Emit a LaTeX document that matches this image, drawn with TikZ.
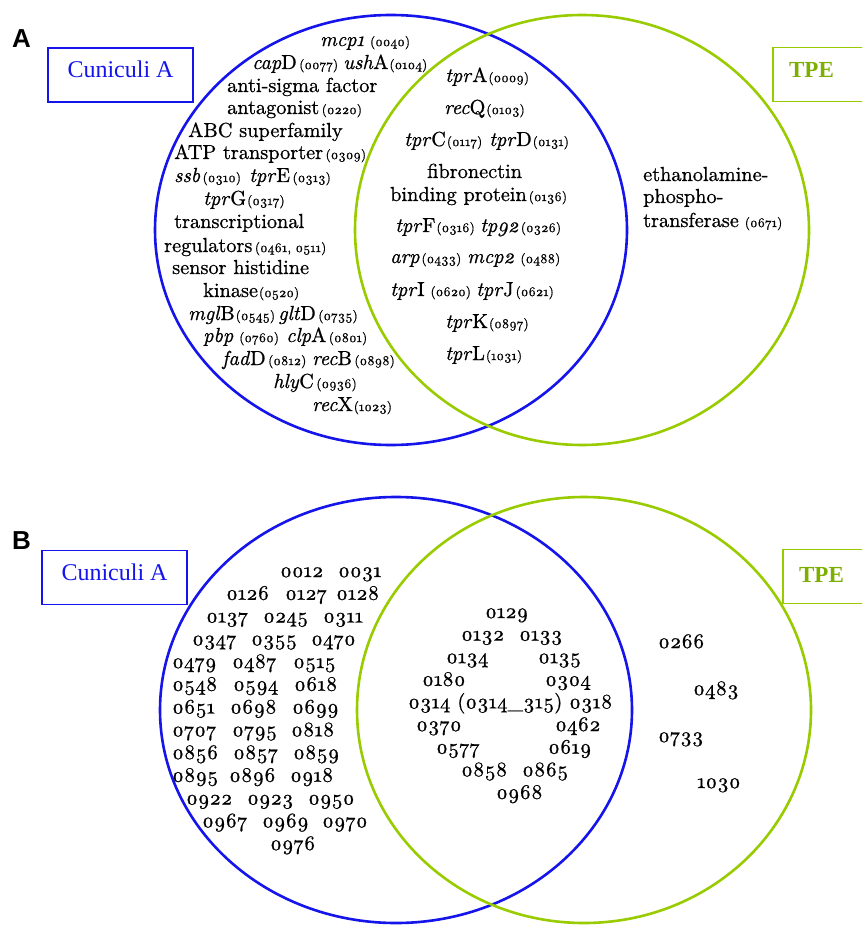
\documentclass[tikz,border=0pt]{standalone}
\usepackage{fontspec}
\setmainfont{lmroman10-regular.otf}[ItalicFont=lmroman10-italic.otf, Numbers=OldStyle, FakeBold=0.8]
\newfontfamily\timesf{Liberation Serif}
\newfontfamily\arialf{Liberation Sans}
\definecolor{vblue}{RGB}{20,20,235}
\definecolor{vgreen}{RGB}{153,204,0}
\definecolor{tgreen}{RGB}{125,175,0}
\newcommand\osn[1]{#1}
\newcommand\pn[1]{{\fontsize{13.3}{15}\selectfont(\osn{#1})}}
\newcommand\tk{\kern2.5pt}
\newcommand\wk{\kern6pt}
\begin{document}
\begin{tikzpicture}[x=1pt,y=-1pt,
  lbl/.style={anchor=base west, inner sep=0pt, font=\fontsize{20.3}{24}\selectfont},
  nb/.style={anchor=base west, inner sep=0pt, font=\fontsize{20.6}{25}\selectfont},
  bluecirc/.style={draw=vblue, line width=2.6pt},
  greencirc/.style={draw=vgreen, line width=2.6pt},
  bluebox/.style={draw=vblue, line width=1.6pt, inner sep=0pt, minimum width=145pt, minimum height=54pt,
     text=vblue, font=\timesf\fontsize{24}{26}\selectfont, text height=16pt, text depth=10pt},
  greenbox/.style={draw=vgreen, line width=1.6pt, inner sep=0pt, minimum width=100pt, minimum height=54pt},
  tpetext/.style={anchor=base, inner sep=0pt, text=tgreen, font=\timesf\bfseries\fontsize{23}{25}\selectfont},
  panel/.style={anchor=base west, inner sep=0pt, font=\arialf\bfseries\fontsize{26}{28}\selectfont}]
\useasboundingbox (0,0) rectangle (862,925);
\clip (0,0) rectangle (862,925);
% ---------------- Panel A ----------------
\node[panel] (pA) at (12,48) {A};
\draw[bluecirc] (391,230) ellipse [x radius=236, y radius=215];
\draw[greencirc] (582,230) ellipse [x radius=227, y radius=215];
\node[bluebox] (boxA1) at (120.5,75) {Cuniculi A};
\node[greenbox] (boxA2) at (823,74.5) {};
\node[tpetext] (tpeA) at (811.5,78) {TPE};
% left only
\node[lbl] (a1) at (320,46) {\textit{mcp1}\wk\pn{0040}};
\node[lbl] (a2) at (252,69) {\textit{cap}D\tk\pn{0077}};
\node[lbl] (a3) at (343,69) {\textit{ush}A\kern1pt\pn{0104}};
\node[lbl] (a4) at (227,92) {anti-sigma factor};
\node[lbl] (a5) at (227,114) {antagonist\tk\pn{0220}};
\node[lbl] (a6) at (188,137) {ABC superfamily};
\node[lbl] (a7) at (174,159) {ATP transporter\tk\pn{0309}};
\node[lbl] (a8) at (174,182) {\textit{ssb}\tk\pn{0310}};
\node[lbl] (a9) at (249,182) {\textit{tpr}E\tk\pn{0313}};
\node[lbl] (a10) at (203,205) {\textit{tpr}G\kern1pt\pn{0317}};
\node[lbl] (a11) at (174,228) {transcriptional};
\node[lbl] (a12) at (164,252) {regulators\tk{\fontsize{13.3}{15}\selectfont(\osn{0461}, \osn{0511})}};
\node[lbl] (a13) at (172,274) {sensor histidine};
\node[lbl] (a14) at (203,297) {kinase\kern1pt\pn{0520}};
\node[lbl] (a15) at (188,320) {\textit{mgl}B\kern1pt\pn{0545}};
\node[lbl] (a16) at (278,320) {\textit{glt}D\tk\pn{0735}};
\node[lbl] (a17) at (203,342) {\textit{pbp}\wk\pn{0760}};
\node[lbl] (a18) at (286,342) {\textit{clp}A\tk\pn{0801}};
\node[lbl] (a19) at (222,365) {\textit{fad}D\tk\pn{0812}};
\node[lbl] (a20) at (312,365) {\textit{rec}B\tk\pn{0898}};
\node[lbl] (a21) at (273,388) {\textit{hly}C\tk\pn{0936}};
\node[lbl] (a22) at (312,411) {\textit{rec}X\kern1pt\pn{1023}};
% intersection
\node[lbl] (a23) at (445,82) {\textit{tpr}A\kern1pt\pn{0009}};
\node[lbl] (a24) at (444,114) {\textit{rec}Q\kern1pt\pn{0103}};
\node[lbl] (a25) at (404,146) {\textit{tpr}C\kern1pt\pn{0117}};
\node[lbl] (a26) at (489,146) {\textit{tpr}D\kern1pt\pn{0131}};
\node[lbl] (a27) at (427,178) {fibronectin};
\node[lbl] (a28) at (390,201) {binding protein\kern2pt\pn{0136}};
\node[lbl] (a29) at (395,232) {\textit{tpr}F\kern1pt\pn{0316}};
\node[lbl] (a30) at (480,232) {\textit{tp92}\kern2pt\pn{0326}};
\node[lbl] (a31) at (390,263) {\textit{arp}\kern2pt\pn{0433}};
\node[lbl] (a32) at (467,263) {\textit{mcp2}\wk\pn{0488}};
\node[lbl] (a33) at (390,296) {\textit{tpr}I\wk\pn{0620}};
\node[lbl] (a34) at (476,296) {\textit{tpr}J\kern2pt\pn{0621}};
\node[lbl] (a35) at (445,328) {\textit{tpr}K\kern1pt\pn{0897}};
\node[lbl] (a36) at (445,360) {\textit{tpr}L\kern1pt\pn{1031}};
% right only
\node[lbl] (a37) at (643,181) {ethanolamine-};
\node[lbl] (a38) at (643,203) {phospho-};
\node[lbl] (a39) at (643,227) {transferase\wk\pn{0671}};
% ---------------- Panel B ----------------
\node[panel] (pB) at (12,549) {B};
\draw[bluecirc] (396,710) ellipse [x radius=236, y radius=213];
\draw[greencirc] (584,710) ellipse [x radius=227, y radius=213];
\node[bluebox] (boxB1) at (114.5,577.5) {Cuniculi A};
\node[greenbox] (boxB2) at (833,576.5) {};
\node[tpetext] (tpeB) at (821.5,582) {TPE};
% left only
\node[nb] (b1) at (280,577) {\osn{0012}};
\node[nb] (b2) at (338,577) {\osn{0031}};
\node[nb] (b3) at (226,599.75) {\osn{0126}};
\node[nb] (b4) at (285,599.75) {\osn{0127}};
\node[nb] (b5) at (336,599.75) {\osn{0128}};
\node[nb] (b6) at (206,622.5) {\osn{0137}};
\node[nb] (b7) at (263,622.5) {\osn{0245}};
\node[nb] (b8) at (323,622.5) {\osn{0311}};
\node[nb] (b9) at (192,645.25) {\osn{0347}};
\node[nb] (b10) at (251,645.25) {\osn{0355}};
\node[nb] (b11) at (311,645.25) {\osn{0470}};
\node[nb] (b12) at (172,668) {\osn{0479}};
\node[nb] (b13) at (232,668) {\osn{0487}};
\node[nb] (b14) at (293,668) {\osn{0515}};
\node[nb] (b15) at (172,690.75) {\osn{0548}};
\node[nb] (b16) at (233,690.75) {\osn{0594}};
\node[nb] (b17) at (294,690.75) {\osn{0618}};
\node[nb] (b18) at (172,713.5) {\osn{0651}};
\node[nb] (b19) at (230,713.5) {\osn{0698}};
\node[nb] (b20) at (292,713.5) {\osn{0699}};
\node[nb] (b21) at (172,736.25) {\osn{0707}};
\node[nb] (b22) at (232,736.25) {\osn{0795}};
\node[nb] (b23) at (291,736.25) {\osn{0818}};
\node[nb] (b24) at (172,759) {\osn{0856}};
\node[nb] (b25) at (233,759) {\osn{0857}};
\node[nb] (b26) at (293,759) {\osn{0859}};
\node[nb] (b27) at (172,781.75) {\osn{0895}};
\node[nb] (b28) at (229,781.75) {\osn{0896}};
\node[nb] (b29) at (290,781.75) {\osn{0918}};
\node[nb] (b30) at (186,804.5) {\osn{0922}};
\node[nb] (b31) at (247,804.5) {\osn{0923}};
\node[nb] (b32) at (308,804.5) {\osn{0950}};
\node[nb] (b33) at (202,827.25) {\osn{0967}};
\node[nb] (b34) at (262,827.25) {\osn{0969}};
\node[nb] (b35) at (322,827.25) {\osn{0970}};
\node[nb] (b36) at (270,850) {\osn{0976}};
% intersection
\node[nb] (b37) at (485,618) {\osn{0129}};
\node[nb] (b38) at (461,640.6) {\osn{0132}};
\node[nb] (b39) at (519,640.6) {\osn{0133}};
\node[nb] (b40) at (446,663.2) {\osn{0134}};
\node[nb] (b41) at (538,663.2) {\osn{0135}};
\node[nb] (b42) at (422,685.8) {\osn{0180}};
\node[nb] (b43) at (545,685.8) {\osn{0304}};
\node[nb] (b44) at (408,708.4) {\osn{0314} (\osn{0314}\_\osn{315}) \osn{0318}};
\node[nb] (b45) at (416,731) {\osn{0370}};
\node[nb] (b46) at (555,731) {\osn{0462}};
\node[nb] (b47) at (436,753.6) {\osn{0577}};
\node[nb] (b48) at (548,753.6) {\osn{0619}};
\node[nb] (b49) at (461,776.2) {\osn{0858}};
\node[nb] (b50) at (522,776.2) {\osn{0865}};
\node[nb] (b51) at (496,798.8) {\osn{0968}};
% right only
\node[nb] (b52) at (658,648) {\osn{0266}};
\node[nb] (b53) at (693,695) {\osn{0483}};
\node[nb] (b54) at (658,742) {\osn{0733}};
\node[nb] (b55) at (697,788) {\osn{1030}};
\end{tikzpicture}
\end{document}
